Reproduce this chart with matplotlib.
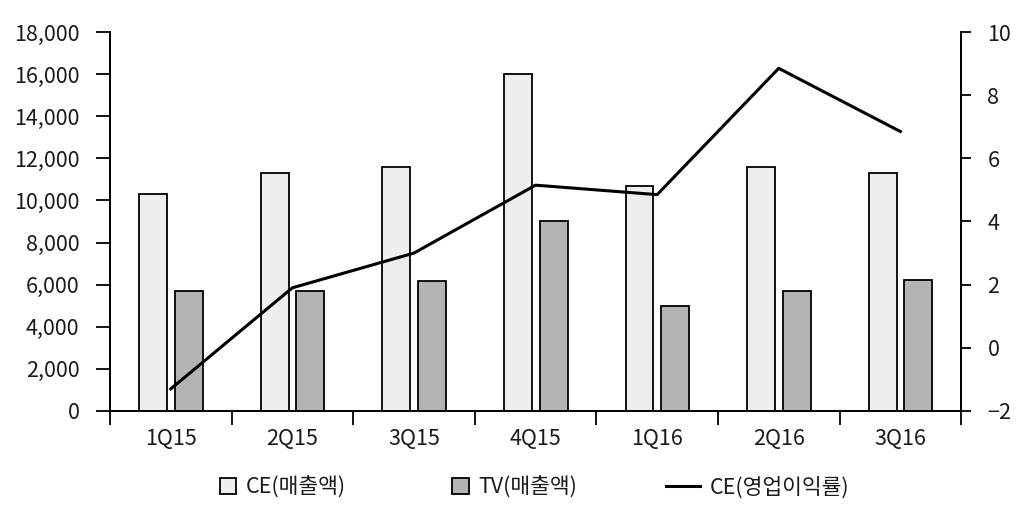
import matplotlib.pyplot as plt
import matplotlib.patches as mpatches
from matplotlib.legend_handler import HandlerPatch
import numpy as np

plt.rcParams['font.family'] = ['Noto Sans CJK KR', 'DejaVu Sans']

quarters = ["1Q15", "2Q15", "3Q15", "4Q15", "1Q16", "2Q16", "3Q16"]
ce_sales = [10300, 11300, 11600, 16000, 10700, 11600, 11300]
tv_sales = [5700, 5700, 6150, 9000, 5000, 5700, 6200]
ce_margin = [-1.3, 1.9, 3.0, 5.15, 4.85, 8.85, 6.85]

x = np.arange(len(quarters))
FS = 15.5
TXT = "#1a1a1a"

fig = plt.figure(figsize=(10.23, 5.12), dpi=100)
ax = fig.add_axes([0.1075, 0.1973, 0.832, 0.7402])
ax2 = ax.twinx()

w = 0.23
b1 = ax.bar(x - 0.145, ce_sales, w, color="#eeeeee", edgecolor="black", linewidth=1.3)
b2 = ax.bar(x + 0.148, tv_sales, w, color="#b4b4b4", edgecolor="black", linewidth=1.3)
ln, = ax2.plot(x, ce_margin, color="black", linewidth=2.2)

ax.set_xlim(-0.5, len(quarters) - 0.5)
ax.set_ylim(0, 18000)
ax.set_yticks(np.arange(0, 18001, 2000))
ax.set_yticklabels([f"{v:,}" for v in range(0, 18001, 2000)])
ax2.set_ylim(-2, 10)
ax2.set_yticks(np.arange(-2, 11, 2))
ax2.set_yticklabels(["\u22122" if v < 0 else str(v) for v in range(-2, 11, 2)])

ax.set_xticks(np.arange(-0.5, len(quarters), 1.0))
ax.set_xticklabels([])
ax.set_xticks(x, minor=True)
ax.set_xticklabels(quarters, minor=True)
ax.tick_params(axis="x", which="major", length=10, width=1.3, direction="out")
ax.tick_params(axis="x", which="minor", length=0, pad=12, labelsize=FS, labelcolor=TXT)
ax.tick_params(axis="y", length=10, width=1.3, pad=12, labelsize=FS, labelcolor=TXT)
ax2.tick_params(axis="y", length=7, width=1.3, pad=12, labelsize=FS, labelcolor=TXT)

for a in (ax, ax2):
    a.spines["top"].set_visible(False)
    for s in ("left", "right", "bottom"):
        a.spines[s].set_linewidth(1.3)


def square(legend, orig_handle, xdescent, ydescent, width, height, fontsize):
    return mpatches.Rectangle((xdescent + width - height * 1.1, -ydescent), height * 1.1, height)


fig.legend([b1[0], b2[0], ln], ["CE(매출액)", "TV(매출액)", "CE(영업이익률)"],
           loc="center", bbox_to_anchor=(0.514, 0.048), ncol=3, frameon=False,
           fontsize=FS, columnspacing=4.1, handlelength=1.6, handletextpad=0.45,
           labelcolor=TXT,
           handler_map={mpatches.Rectangle: HandlerPatch(patch_func=square)})

fig.savefig("out.png", dpi=100)
